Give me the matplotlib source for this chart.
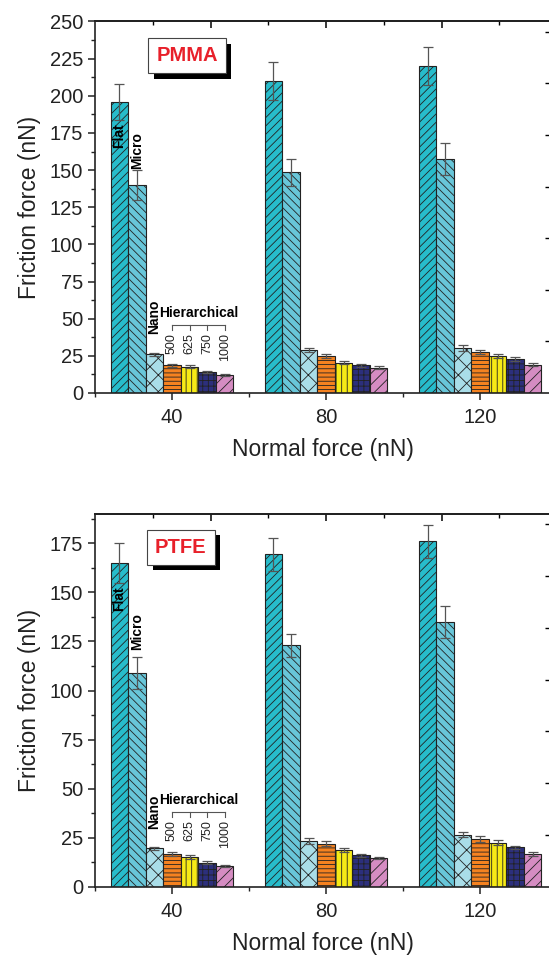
import numpy as np
import matplotlib
matplotlib.use("Agg")
import matplotlib.pyplot as plt
import matplotlib.patheffects as pe
from matplotlib.ticker import MultipleLocator

plt.rcParams["font.family"] = ["Liberation Sans", "DejaVu Sans"]
plt.rcParams["hatch.linewidth"] = 0.6

# data
loads = [40, 80, 120]
surfaces = ["Flat", "Micro", "Nano", "500", "625", "750", "1000"]

# PMMA friction force (nN), one list per normal load, order as surfaces
pmma_40 = [196, 140, 26, 18.5, 17.5, 14, 12]
pmma_80 = [210, 148.5, 29, 25, 20.5, 18.5, 17]
pmma_120 = [220, 157.5, 30, 27.5, 25, 23, 19]
pmma_40_err = [12, 10, 1, 1.2, 1, 0.7, 0.8]
pmma_80_err = [12.5, 9, 1.5, 1.2, 1.2, 1, 1]
pmma_120_err = [13, 11, 2, 1.5, 1.5, 1.2, 1]

# PTFE friction force (nN)
ptfe_40 = [165, 109, 19.5, 16.5, 15, 12.2, 10.5]
ptfe_80 = [169.5, 123, 23.5, 22, 18.5, 16, 14.5]
ptfe_120 = [176, 135, 26.5, 24.5, 22.5, 20, 16.5]
ptfe_40_err = [10, 8, 0.7, 1, 1, 0.7, 0.6]
ptfe_80_err = [8.5, 6, 1.5, 1.2, 1, 0.6, 0.5]
ptfe_120_err = [8.5, 8, 1.2, 1.5, 1.2, 1, 1]

colors = ["#27bccb", "#68c6d9", "#a9dde8", "#f58220", "#f6ea16", "#2c2f7c", "#d58cc2"]
hatches = ["////", "\\\\\\\\", "xx", "----", "|||", "+++", "///"]

bar_w = 4.55


def draw_panel(ax, means, errs, ymax, name, name_xy, lab_y):
    offs = (np.arange(len(surfaces)) - 3) * bar_w
    for i, s in enumerate(surfaces):
        xs = [l + offs[i] for l in loads]
        ys = [m[i] for m in means]
        es = [e[i] for e in errs]
        ax.bar(xs, ys, width=bar_w, color=colors[i], hatch=hatches[i],
               edgecolor="#222222", linewidth=0.8, zorder=2)
        ax.errorbar(xs, ys, yerr=es, fmt="none", ecolor="#555555",
                    elinewidth=0.9, capsize=3.5, capthick=0.9, zorder=3)

    ax.set_xlim(20, 138.4)
    ax.set_ylim(0, ymax)
    ax.set_xticks(loads)
    ax.xaxis.set_minor_locator(MultipleLocator(20))
    ax.yaxis.set_major_locator(MultipleLocator(25))
    ax.yaxis.set_minor_locator(MultipleLocator(12.5))
    ax.tick_params(axis="both", which="major", direction="out", length=5,
                   width=1.1, labelsize=14.5, colors="#222222")
    ax.tick_params(axis="both", which="minor", direction="out", length=3,
                   width=1.0, colors="#222222")
    ax.tick_params(axis="x", pad=6)
    for sp in ax.spines.values():
        sp.set_linewidth(1.2)
        sp.set_color("#222222")
    ax.set_xlabel("Normal force (nN)", fontsize=16.5, labelpad=8, color="#222222")
    ax.set_ylabel("Friction force (nN)", fontsize=16.5, labelpad=6, color="#222222")

    # mirrored top axis with its own tick spacing
    top = ax.secondary_xaxis("top")
    top.set_xticks([50, 80, 110], labels=[])
    top.set_xticks([35, 65, 95, 125], minor=True)
    top.tick_params(which="major", direction="in", length=5, width=1.1)
    top.tick_params(which="minor", direction="in", length=3, width=1.0)
    top.spines["top"].set_linewidth(1.2)

    rgt = ax.secondary_yaxis("right")
    rgt.set_yticks(np.arange(1, 8) * ymax / 7.2, labels=[])
    rgt.tick_params(direction="in", length=4, width=1.0)

    # sample name box with drop shadow
    t = ax.text(name_xy[0], name_xy[1], name, color="#e8202a", fontsize=14.5,
                fontweight="bold", ha="center", va="center", zorder=5,
                bbox=dict(boxstyle="square,pad=0.4", fc="white", ec="#444444", lw=0.8))
    t.get_bbox_patch().set_path_effects(
        [pe.SimplePatchShadow(offset=(4, -4), shadow_rgbFace="black", alpha=1.0),
         pe.Normal()])

    # surface labels
    x0 = loads[0]
    fy, my, ny, hy, by, ly = lab_y
    ax.text(x0 + offs[0], fy, "Flat", rotation=90, fontsize=10, fontweight="bold",
            ha="center", va="center", zorder=4)
    ax.text(x0 + offs[1], my, "Micro", rotation=90, fontsize=10, fontweight="bold",
            ha="center", va="center", zorder=4)
    ax.text(x0 + offs[2], ny, "Nano", rotation=90, fontsize=10, fontweight="bold",
            ha="center", va="center", zorder=4)
    hx = x0 + (offs[3] + offs[6]) / 2
    ax.text(hx, hy, "Hierarchical", fontsize=10, fontweight="bold",
            ha="center", va="center", zorder=4)
    tick_len = (by - ly) * 0.65
    ax.plot([x0 + offs[3], x0 + offs[6]], [by, by], color="#555555", lw=0.8)
    for i in range(3, 7):
        ax.plot([x0 + offs[i], x0 + offs[i]], [by, by - tick_len],
                color="#555555", lw=0.8)
        ax.text(x0 + offs[i], ly, surfaces[i], rotation=90, fontsize=9,
                ha="center", va="top", color="#222222")


fig = plt.figure(figsize=(5.49, 9.55), dpi=100)
ax1 = fig.add_axes([0.1730, 0.5885, 0.8306, 0.3890])
ax2 = fig.add_axes([0.1730, 0.0715, 0.8306, 0.3903])

draw_panel(ax1, [pmma_40, pmma_80, pmma_120], [pmma_40_err, pmma_80_err, pmma_120_err],
           250, "PMMA", (43.9, 227), (173, 163, 51, 53.5, 45.7, 40.5))
draw_panel(ax2, [ptfe_40, ptfe_80, ptfe_120], [ptfe_40_err, ptfe_80_err, ptfe_120_err],
           190, "PTFE", (42.3, 173), (147, 130, 38, 44, 38.2, 34))

fig.savefig("out.png", dpi=100)
